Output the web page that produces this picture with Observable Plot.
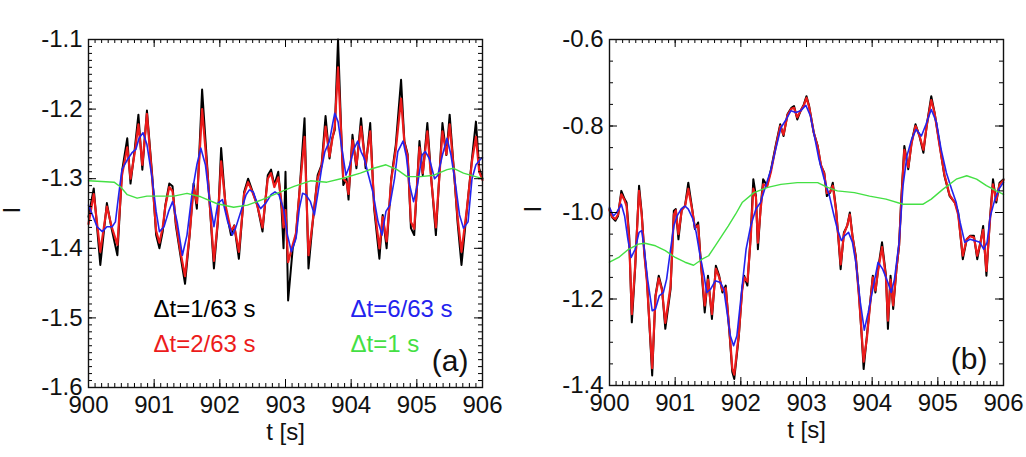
<!DOCTYPE html>
<html><head><meta charset="utf-8">
<script src="https://cdn.jsdelivr.net/npm/d3@7"></script>
<script src="https://cdn.jsdelivr.net/npm/@observablehq/plot@0.6"></script>
<style>
body{margin:0;background:#fff}
#c{display:flex;width:1026px;height:457px}
#c svg{display:block}
</style>
</head><body><div id="c"></div>
<script>
// ---------- data ----------
const xMajor = [900, 901, 902, 903, 904, 905, 906];
const aYMajor = [-1.6, -1.5, -1.4, -1.3, -1.2, -1.1];
const bYMajor = [-1.4, -1.2, -1.0, -0.8, -0.6];
const legendLabels = ["Δt=1/63 s", "Δt=2/63 s", "Δt=6/63 s", "Δt=1 s"];
const panelTags = ["(a)", "(b)"];

// panel (a)
const aBlack = [[900.00,-1.355],[900.08,-1.314],[900.18,-1.424],[900.28,-1.335],[900.35,-1.371],[900.44,-1.410],[900.51,-1.290],[900.59,-1.242],[900.64,-1.307],[900.70,-1.261],[900.76,-1.208],[900.82,-1.287],[900.89,-1.202],[900.97,-1.295],[901.03,-1.381],[901.08,-1.400],[901.13,-1.376],[901.17,-1.338],[901.23,-1.307],[901.28,-1.311],[901.33,-1.367],[901.40,-1.410],[901.47,-1.451],[901.54,-1.381],[901.60,-1.307],[901.65,-1.343],[901.73,-1.172],[901.81,-1.285],[901.91,-1.429],[901.97,-1.362],[902.02,-1.256],[902.09,-1.343],[902.17,-1.381],[902.22,-1.367],[902.29,-1.415],[902.37,-1.319],[902.43,-1.300],[902.50,-1.319],[902.57,-1.338],[902.65,-1.376],[902.73,-1.295],[902.78,-1.287],[902.83,-1.309],[902.89,-1.290],[902.94,-1.343],[902.97,-1.400],[903.00,-1.290],[903.04,-1.475],[903.11,-1.400],[903.16,-1.381],[903.22,-1.309],[903.29,-1.213],[903.35,-1.429],[903.41,-1.367],[903.49,-1.295],[903.55,-1.280],[903.61,-1.210],[903.67,-1.271],[903.71,-1.242],[903.75,-1.230],[903.80,-1.100],[903.85,-1.237],[903.88,-1.309],[903.93,-1.300],[903.96,-1.330],[904.02,-1.237],[904.08,-1.285],[904.15,-1.213],[904.22,-1.285],[904.29,-1.220],[904.35,-1.343],[904.43,-1.415],[904.48,-1.352],[904.54,-1.400],[904.61,-1.300],[904.68,-1.251],[904.76,-1.158],[904.81,-1.246],[904.86,-1.265],[904.91,-1.371],[904.96,-1.381],[905.04,-1.246],[905.09,-1.295],[905.16,-1.220],[905.22,-1.300],[905.29,-1.381],[905.39,-1.220],[905.45,-1.266],[905.50,-1.208],[905.57,-1.295],[905.62,-1.362],[905.68,-1.424],[905.76,-1.347],[905.84,-1.271],[905.90,-1.218],[905.95,-1.285],[906.00,-1.300]];
const aRed = [[900.00,-1.365],[900.08,-1.322],[900.18,-1.405],[900.28,-1.340],[900.35,-1.368],[900.44,-1.395],[900.51,-1.295],[900.59,-1.255],[900.64,-1.300],[900.70,-1.265],[900.76,-1.222],[900.82,-1.280],[900.89,-1.207],[900.97,-1.300],[901.03,-1.375],[901.08,-1.392],[901.13,-1.370],[901.17,-1.340],[901.23,-1.312],[901.28,-1.318],[901.33,-1.362],[901.40,-1.405],[901.47,-1.440],[901.54,-1.380],[901.60,-1.312],[901.65,-1.335],[901.73,-1.200],[901.81,-1.290],[901.91,-1.418],[901.97,-1.360],[902.02,-1.275],[902.09,-1.340],[902.17,-1.375],[902.22,-1.368],[902.29,-1.405],[902.37,-1.322],[902.43,-1.305],[902.50,-1.320],[902.57,-1.338],[902.65,-1.370],[902.73,-1.300],[902.78,-1.292],[902.83,-1.312],[902.89,-1.298],[902.94,-1.335],[902.97,-1.370],[903.00,-1.345],[903.04,-1.420],[903.11,-1.395],[903.16,-1.378],[903.22,-1.312],[903.29,-1.240],[903.35,-1.410],[903.41,-1.365],[903.49,-1.300],[903.55,-1.282],[903.61,-1.225],[903.67,-1.268],[903.71,-1.245],[903.75,-1.225],[903.80,-1.140],[903.85,-1.240],[903.88,-1.300],[903.93,-1.305],[903.96,-1.322],[904.02,-1.245],[904.08,-1.280],[904.15,-1.225],[904.22,-1.280],[904.29,-1.232],[904.35,-1.338],[904.43,-1.400],[904.48,-1.355],[904.54,-1.390],[904.61,-1.302],[904.68,-1.258],[904.76,-1.185],[904.81,-1.248],[904.86,-1.268],[904.91,-1.362],[904.96,-1.372],[905.04,-1.255],[905.09,-1.292],[905.16,-1.232],[905.22,-1.302],[905.29,-1.370],[905.39,-1.232],[905.45,-1.265],[905.50,-1.222],[905.57,-1.295],[905.62,-1.355],[905.68,-1.405],[905.76,-1.345],[905.84,-1.275],[905.90,-1.240],[905.95,-1.290],[906.00,-1.302]];
const aBlue = [[900.00,-1.338],[900.06,-1.352],[900.13,-1.369],[900.21,-1.376],[900.28,-1.369],[900.36,-1.369],[900.41,-1.362],[900.46,-1.323],[900.51,-1.287],[900.59,-1.273],[900.66,-1.263],[900.72,-1.258],[900.77,-1.242],[900.83,-1.234],[900.89,-1.251],[900.97,-1.300],[901.03,-1.347],[901.08,-1.376],[901.15,-1.369],[901.22,-1.347],[901.28,-1.333],[901.35,-1.362],[901.43,-1.410],[901.50,-1.381],[901.58,-1.319],[901.65,-1.280],[901.71,-1.256],[901.78,-1.280],[901.84,-1.328],[901.91,-1.369],[901.97,-1.335],[902.04,-1.330],[902.12,-1.362],[902.19,-1.381],[902.24,-1.371],[902.32,-1.347],[902.40,-1.323],[902.45,-1.316],[902.51,-1.319],[902.56,-1.333],[902.62,-1.343],[902.70,-1.335],[902.78,-1.323],[902.84,-1.319],[902.90,-1.323],[902.97,-1.343],[903.03,-1.381],[903.09,-1.405],[903.16,-1.386],[903.21,-1.343],[903.26,-1.321],[903.31,-1.323],[903.38,-1.333],[903.44,-1.352],[903.49,-1.323],[903.55,-1.285],[903.60,-1.261],[903.67,-1.246],[903.72,-1.220],[903.75,-1.206],[903.80,-1.218],[903.85,-1.251],[903.92,-1.295],[903.97,-1.283],[904.04,-1.258],[904.10,-1.246],[904.15,-1.261],[904.20,-1.271],[904.25,-1.290],[904.33,-1.319],[904.41,-1.362],[904.47,-1.381],[904.53,-1.347],[904.59,-1.338],[904.66,-1.300],[904.71,-1.261],[904.79,-1.246],[904.84,-1.268],[904.89,-1.309],[904.95,-1.333],[905.01,-1.309],[905.08,-1.266],[905.13,-1.261],[905.19,-1.271],[905.27,-1.300],[905.32,-1.295],[905.39,-1.266],[905.46,-1.242],[905.52,-1.266],[905.59,-1.309],[905.65,-1.352],[905.71,-1.371],[905.78,-1.362],[905.84,-1.300],[905.90,-1.280],[905.98,-1.271],[906.00,-1.270]];
const aGreen = [[900.00,-1.303],[900.20,-1.304],[900.39,-1.305],[900.49,-1.312],[900.59,-1.323],[900.74,-1.328],[900.89,-1.325],[901.10,-1.325],[901.30,-1.325],[901.50,-1.321],[901.71,-1.326],[901.96,-1.336],[902.21,-1.341],[902.42,-1.338],[902.62,-1.331],[902.87,-1.321],[903.13,-1.311],[903.38,-1.303],[903.63,-1.305],[903.89,-1.299],[904.14,-1.292],[904.34,-1.285],[904.53,-1.280],[904.70,-1.287],[904.85,-1.297],[905.06,-1.297],[905.26,-1.295],[905.46,-1.287],[905.56,-1.285],[905.71,-1.292],[906.00,-1.300]];

// panel (b)
const bBlack = [[900.00,-0.992],[900.04,-1.011],[900.09,-1.019],[900.13,-1.008],[900.18,-0.950],[900.23,-0.969],[900.26,-0.977],[900.30,-1.054],[900.34,-1.254],[900.39,-1.131],[900.45,-0.938],[900.49,-1.000],[900.53,-1.092],[900.57,-1.154],[900.65,-1.377],[900.70,-1.192],[900.75,-1.146],[900.80,-1.177],[900.85,-1.269],[900.93,-1.177],[900.98,-0.996],[901.01,-0.992],[901.05,-1.062],[901.10,-0.992],[901.15,-0.985],[901.20,-0.931],[901.26,-0.992],[901.30,-1.038],[901.35,-1.023],[901.38,-1.092],[901.45,-1.231],[901.50,-1.146],[901.56,-1.246],[901.62,-1.123],[901.67,-1.146],[901.72,-1.185],[901.77,-1.169],[901.83,-1.285],[901.87,-1.369],[901.90,-1.385],[901.97,-1.285],[902.02,-1.177],[902.05,-1.146],[902.10,-1.169],[902.15,-1.054],[902.19,-0.923],[902.23,-0.962],[902.26,-1.085],[902.30,-0.992],[902.34,-0.923],[902.40,-0.938],[902.46,-0.900],[902.53,-0.846],[902.60,-0.796],[902.65,-0.823],[902.71,-0.773],[902.77,-0.758],[902.81,-0.754],[902.86,-0.785],[902.91,-0.765],[902.96,-0.750],[903.00,-0.731],[903.04,-0.754],[903.11,-0.815],[903.17,-0.846],[903.22,-0.892],[903.27,-0.908],[903.31,-0.962],[903.36,-0.954],[903.40,-0.931],[903.45,-0.992],[903.49,-1.069],[903.52,-1.131],[903.57,-1.046],[903.62,-1.031],[903.66,-1.000],[903.70,-1.054],[903.75,-1.100],[903.80,-1.192],[903.84,-1.285],[903.87,-1.362],[903.92,-1.285],[903.97,-1.208],[904.01,-1.146],[904.05,-1.185],[904.09,-1.131],[904.15,-1.069],[904.21,-1.146],[904.24,-1.269],[904.28,-1.146],[904.32,-1.223],[904.37,-1.131],[904.41,-1.077],[904.44,-0.977],[904.49,-0.846],[904.55,-0.900],[904.60,-0.838],[904.66,-0.796],[904.72,-0.823],[904.78,-0.862],[904.83,-0.800],[904.90,-0.731],[904.95,-0.769],[905.03,-0.846],[905.10,-0.915],[905.18,-0.962],[905.26,-0.977],[905.31,-1.000],[905.38,-1.108],[905.44,-1.062],[905.49,-1.054],[905.55,-1.054],[905.60,-1.108],[905.65,-1.069],[905.69,-1.031],[905.74,-1.146],[905.79,-1.023],[905.84,-0.923],[905.89,-0.977],[905.94,-0.931],[906.00,-0.923]];
const bRed = [[900.00,-0.995],[900.04,-1.010],[900.09,-1.015],[900.13,-1.005],[900.18,-0.958],[900.23,-0.972],[900.26,-0.985],[900.30,-1.065],[900.34,-1.235],[900.39,-1.125],[900.45,-0.950],[900.49,-1.005],[900.53,-1.095],[900.57,-1.160],[900.65,-1.360],[900.70,-1.195],[900.75,-1.152],[900.80,-1.180],[900.85,-1.255],[900.93,-1.170],[900.98,-1.005],[901.01,-0.995],[901.05,-1.050],[901.10,-0.995],[901.15,-0.985],[901.20,-0.945],[901.26,-0.995],[901.30,-1.035],[901.35,-1.030],[901.38,-1.095],[901.45,-1.215],[901.50,-1.155],[901.56,-1.235],[901.62,-1.130],[901.67,-1.150],[901.72,-1.180],[901.77,-1.175],[901.83,-1.280],[901.87,-1.360],[901.90,-1.375],[901.97,-1.280],[902.02,-1.180],[902.05,-1.150],[902.10,-1.160],[902.15,-1.060],[902.19,-0.945],[902.23,-0.965],[902.26,-1.070],[902.30,-0.995],[902.34,-0.935],[902.40,-0.940],[902.46,-0.905],[902.53,-0.850],[902.60,-0.800],[902.65,-0.820],[902.71,-0.775],[902.77,-0.760],[902.81,-0.758],[902.86,-0.780],[902.91,-0.765],[902.96,-0.752],[903.00,-0.735],[903.04,-0.756],[903.11,-0.815],[903.17,-0.848],[903.22,-0.890],[903.27,-0.910],[903.31,-0.955],[903.36,-0.952],[903.40,-0.938],[903.45,-0.995],[903.49,-1.065],[903.52,-1.120],[903.57,-1.050],[903.62,-1.030],[903.66,-1.005],[903.70,-1.055],[903.75,-1.105],[903.80,-1.195],[903.84,-1.280],[903.87,-1.345],[903.92,-1.290],[903.97,-1.210],[904.01,-1.150],[904.05,-1.180],[904.09,-1.135],[904.15,-1.080],[904.21,-1.150],[904.24,-1.250],[904.28,-1.155],[904.32,-1.215],[904.37,-1.130],[904.41,-1.075],[904.44,-0.985],[904.49,-0.855],[904.55,-0.895],[904.60,-0.840],[904.66,-0.800],[904.72,-0.822],[904.78,-0.855],[904.83,-0.800],[904.90,-0.740],[904.95,-0.770],[905.03,-0.848],[905.10,-0.912],[905.18,-0.960],[905.26,-0.978],[905.31,-1.005],[905.38,-1.100],[905.44,-1.062],[905.49,-1.055],[905.55,-1.058],[905.60,-1.100],[905.65,-1.068],[905.69,-1.040],[905.74,-1.135],[905.79,-1.025],[905.84,-0.935],[905.89,-0.972],[905.94,-0.935],[906.00,-0.925]];
const bBlue = [[900.00,-0.988],[900.06,-1.008],[900.11,-1.000],[900.18,-0.981],[900.23,-1.008],[900.28,-1.062],[900.33,-1.104],[900.39,-1.085],[900.45,-1.046],[900.49,-1.042],[900.53,-1.085],[900.58,-1.154],[900.65,-1.227],[900.70,-1.223],[900.76,-1.192],[900.82,-1.185],[900.87,-1.154],[900.93,-1.085],[900.98,-1.031],[901.03,-1.008],[901.09,-0.992],[901.15,-0.985],[901.20,-0.992],[901.27,-1.015],[901.32,-1.046],[901.38,-1.100],[901.44,-1.146],[901.48,-1.185],[901.54,-1.177],[901.61,-1.158],[901.69,-1.162],[901.74,-1.177],[901.79,-1.231],[901.84,-1.285],[901.89,-1.308],[901.94,-1.285],[902.01,-1.185],[902.08,-1.085],[902.15,-1.031],[902.23,-0.992],[902.30,-0.977],[902.38,-0.938],[902.46,-0.900],[902.53,-0.854],[902.61,-0.804],[902.69,-0.785],[902.76,-0.765],[902.84,-0.769],[902.91,-0.765],[902.99,-0.752],[903.06,-0.777],[903.12,-0.823],[903.19,-0.877],[903.27,-0.923],[903.35,-0.962],[903.42,-1.008],[903.47,-1.038],[903.53,-1.065],[903.58,-1.054],[903.64,-1.046],[903.70,-1.069],[903.75,-1.115],[903.82,-1.208],[903.88,-1.272],[903.94,-1.231],[904.01,-1.177],[904.09,-1.115],[904.16,-1.131],[904.24,-1.162],[904.29,-1.185],[904.34,-1.154],[904.41,-1.069],[904.47,-0.938],[904.53,-0.869],[904.60,-0.831],[904.67,-0.808],[904.75,-0.823],[904.82,-0.796],[904.90,-0.762],[904.98,-0.792],[905.05,-0.854],[905.13,-0.908],[905.21,-0.946],[905.28,-0.977],[905.34,-1.023],[905.41,-1.069],[905.49,-1.062],[905.56,-1.065],[905.64,-1.069],[905.70,-1.085],[905.75,-1.069],[905.80,-1.008],[905.87,-0.969],[905.93,-0.946],[906.00,-0.930]];
const bGreen = [[900.00,-1.115],[900.14,-1.104],[900.29,-1.085],[900.44,-1.073],[900.54,-1.071],[900.70,-1.077],[900.85,-1.088],[901.00,-1.104],[901.15,-1.115],[901.28,-1.122],[901.41,-1.108],[901.51,-1.100],[901.61,-1.077],[901.71,-1.054],[901.81,-1.031],[901.92,-1.004],[902.02,-0.977],[902.20,-0.954],[902.41,-0.942],[902.61,-0.935],[902.86,-0.931],[903.17,-0.931],[903.32,-0.942],[903.47,-0.950],[903.73,-0.954],[903.96,-0.962],[904.21,-0.969],[904.47,-0.981],[904.77,-0.981],[904.90,-0.969],[905.08,-0.946],[905.28,-0.923],[905.44,-0.915],[905.59,-0.923],[905.74,-0.938],[905.89,-0.950],[906.00,-0.958]];

// ---------- styles ----------
const COLORS = ["#000000", "#ec1b1b", "#2323ee", "#44e044"];
const WIDTHS = [2, 2.2, 1.6, 1.4];
const FONT = "'Liberation Sans', Arial, Helvetica, sans-serif";

function range(lo, hi, step) {
  const n0 = Math.round(lo / step), n1 = Math.round(hi / step);
  const out = [];
  for (let i = n0; i <= n1; i++) out.push(+(i * step).toFixed(4));
  return out;
}

function panel(cfg) {
  const W = 513, H = 457;
  const {mt, mb, ml, mr} = cfg;
  const FW = W - ml - mr, FH = H - mt - mb;
  const xMinor = range(900, 906, 0.1);
  const yMinor = range(cfg.yDomain[0], cfg.yDomain[1], cfg.yMinorStep);
  const MAJ = 8, MIN = 4;
  const tick = {stroke: "#000", strokeWidth: 1};
  const marks = [
    ...cfg.series.map((s, i) => Plot.line(s, {x: d => d[0], y: d => d[1], stroke: COLORS[i], strokeWidth: WIDTHS[i], strokeLinejoin: "round"})),
    Plot.ruleX(xMinor, {x: d => d, insetTop: FH - MIN, ...tick}),
    Plot.ruleX(xMinor, {x: d => d, insetBottom: FH - MIN, ...tick}),
    Plot.ruleX(xMajor, {x: d => d, insetTop: FH - MAJ, ...tick}),
    Plot.ruleX(xMajor, {x: d => d, insetBottom: FH - MAJ, ...tick}),
    Plot.ruleY(yMinor, {y: d => d, insetRight: FW - MIN, ...tick}),
    Plot.ruleY(yMinor, {y: d => d, insetLeft: FW - MIN, ...tick}),
    Plot.ruleY(cfg.yMajor, {y: d => d, insetRight: FW - MAJ, ...tick}),
    Plot.ruleY(cfg.yMajor, {y: d => d, insetLeft: FW - MAJ, ...tick}),
    Plot.frame({stroke: "#111", strokeWidth: 1.4}),
    Plot.axisX(xMajor, {anchor: "bottom", tickSize: 0, tickPadding: 8, tickFormat: d => String(d), label: null, fontSize: 24, fill: "#111"}),
    Plot.axisY(cfg.yMajor, {anchor: "left", tickSize: 0, tickPadding: 6, tickFormat: d => d.toFixed(1), label: null, fontSize: 24, fill: "#111"}),
    Plot.text(["t [s]"], {frameAnchor: "bottom", dy: 45, text: d => d, fontSize: 24, lineAnchor: "middle", fill: "#111"}),
    Plot.text(["I"], {frameAnchor: "left", dx: cfg.labelDx, rotate: -90, text: d => d, fontSize: 24, lineAnchor: "middle", fill: "#111"}),
    Plot.text([cfg.tag], {frameAnchor: "bottom-right", dx: cfg.tagDx, dy: -26, text: d => d, fontSize: 30, textAnchor: "end", lineAnchor: "middle", fill: "#111"})
  ];
  if (cfg.legend) {
    const lx = [65, 65, 262, 262], ly = [270, 305, 270, 305];
    legendLabels.forEach((lab, i) => {
      marks.push(Plot.text([lab], {frameAnchor: "top-left", dx: lx[i], dy: ly[i], text: d => d, fontSize: 24, textAnchor: "start", lineAnchor: "middle", fill: COLORS[i]}));
    });
  }
  return Plot.plot({
    width: W, height: H,
    marginTop: mt, marginBottom: mb, marginLeft: ml, marginRight: mr,
    x: {domain: [900, 906]},
    y: {domain: cfg.yDomain},
    style: {fontFamily: FONT, fontSize: "24px", background: "#fff", overflow: "visible"},
    marks
  });
}

const c = document.getElementById("c");
c.append(panel({series: [aBlack, aRed, aBlue, aGreen], yDomain: [-1.6, -1.1], yMajor: aYMajor, yMinorStep: 0.01,
  mt: 39, mb: 70, ml: 88, mr: 31, tag: panelTags[0], tagDx: -14, labelDx: -76, legend: true}));
c.append(panel({series: [bBlack, bRed, bBlue, bGreen], yDomain: [-1.4, -0.6], yMajor: bYMajor, yMinorStep: 0.05,
  mt: 39, mb: 72, ml: 96, mr: 23, tag: panelTags[1], tagDx: -16, labelDx: -76, legend: false}));
</script>
</body></html>
